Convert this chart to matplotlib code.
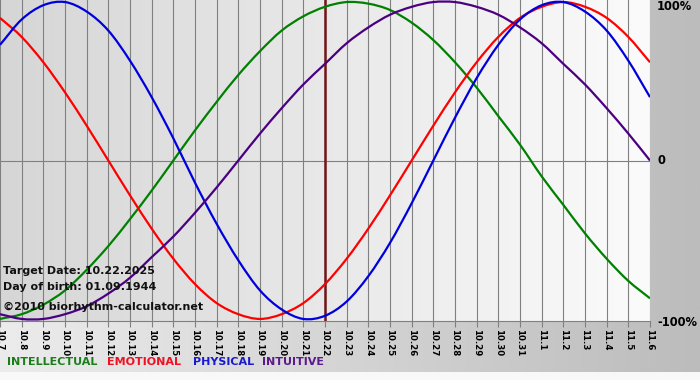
import matplotlib.pyplot as plt
import numpy as np
from matplotlib.colors import LinearSegmentedColormap
from matplotlib.path import Path
from matplotlib.patches import PathPatch

days = ["10.7", "10.8", "10.9", "10.10", "10.11", "10.12", "10.13", "10.14",
        "10.15", "10.16", "10.17", "10.18", "10.19", "10.20", "10.21", "10.22",
        "10.23", "10.24", "10.25", "10.26", "10.27", "10.28", "10.29", "10.30",
        "10.31", "11.1", "11.2", "11.3", "11.4", "11.5", "11.6"]
target = "10.22"

intellectual = [-1.00, -0.97, -0.91, -0.82, -0.69, -0.54, -0.37, -0.19, 0.00, 0.19,
                0.37, 0.54, 0.69, 0.82, 0.91, 0.97, 1.00, 0.99, 0.95, 0.87, 0.76,
                0.62, 0.46, 0.28, 0.10, -0.10, -0.28, -0.46, -0.62, -0.76, -0.87]
emotional = [0.90, 0.78, 0.62, 0.43, 0.22, 0.00, -0.22, -0.43, -0.62, -0.78,
             -0.90, -0.97, -1.00, -0.97, -0.90, -0.78, -0.62, -0.43, -0.22, 0.00,
             0.22, 0.43, 0.62, 0.78, 0.90, 0.97, 1.00, 0.97, 0.90, 0.78, 0.62]
physical = [0.73, 0.89, 0.98, 1.00, 0.94, 0.82, 0.63, 0.40, 0.14, -0.14,
            -0.40, -0.63, -0.82, -0.94, -1.00, -0.98, -0.89, -0.73, -0.52, -0.27,
            0.00, 0.27, 0.52, 0.73, 0.89, 0.98, 1.00, 0.94, 0.82, 0.63, 0.40]
intuitive = [-0.97, -1.00, -1.00, -0.97, -0.92, -0.84, -0.74, -0.61, -0.48, -0.33,
             -0.17, 0.00, 0.17, 0.33, 0.48, 0.61, 0.74, 0.84, 0.92, 0.97,
             1.00, 1.00, 0.97, 0.92, 0.84, 0.74, 0.61, 0.48, 0.33, 0.17, 0.00]

series = [
    ("INTELLECTUAL", intellectual, "#008000", "#1a7f1a"),
    ("EMOTIONAL", emotional, "#ff0000", "#ee1122"),
    ("PHYSICAL", physical, "#0000dd", "#1a1acc"),
    ("INTUITIVE", intuitive, "#4b0082", "#5a1a8a"),
]


def smooth_path(xs, ys):
    # catmull-rom through the day values, drawn as cubic beziers
    pts = np.column_stack([xs, ys]).astype(float)
    ext = np.vstack([2 * pts[0] - pts[1], pts, 2 * pts[-1] - pts[-2]])
    verts = [pts[0]]
    codes = [Path.MOVETO]
    for i in range(1, len(ext) - 2):
        p0, p1, p2, p3 = ext[i - 1], ext[i], ext[i + 1], ext[i + 2]
        verts += [p1 + (p2 - p0) / 6, p2 - (p3 - p1) / 6, p2]
        codes += [Path.CURVE4] * 3
    return Path(verts, codes)


W, H = 700, 380
fig = plt.figure(figsize=(W / 100, H / 100), dpi=100, facecolor="#f8f8f8")

# outer gradient (light left -> dark right)
grad = np.linspace(0, 1, 256).reshape(1, -1)
bg = fig.add_axes([0, 0, 1, 1])
bg.axis("off")
bg.imshow(grad, aspect="auto", extent=[0, 1, 8 / H, 1],
          cmap=LinearSegmentedColormap.from_list("outer", ["#ececec", "#bcbcbc"]))
bg.set_xlim(0, 1)
bg.set_ylim(0, 1)

ax = fig.add_axes([0, 59 / H, 650 / W, 321 / H])
x = np.arange(len(days))
ax.imshow(grad, aspect="auto", extent=[0, x[-1], -1.1, 1.1], zorder=0,
          cmap=LinearSegmentedColormap.from_list("inner", ["#d6d6d6", "#fbfbfb"]))
ax.set_xlim(0, x[-1])
ax.set_ylim(-1.013, 1.013)

ax.set_xticks(x)
ax.set_xticklabels(days, rotation=270, fontsize=6.2, fontweight="bold")
ax.set_yticks([])
ax.grid(axis="x", color="#808080", lw=0.8)
ax.tick_params(axis="x", direction="out", length=4, color="#808080", pad=2)
for s in ["top", "left", "right"]:
    ax.spines[s].set_visible(False)
ax.spines["bottom"].set_color("#808080")
ax.spines["bottom"].set_linewidth(0.8)

ax.axhline(0, color="#808080", lw=0.8, zorder=1.5)
ax.axvline(days.index(target), color="#701515", lw=1.8, zorder=1.6)

for name, vals, col, _ in series:
    ax.add_patch(PathPatch(smooth_path(x, vals), fill=False, edgecolor=col,
                           lw=1.6, zorder=3))

# right side labels
for lab, py in [("100%", 7), ("0", 161), ("-100%", 322)]:
    fig.text(657 / W, 1 - py / H, lab, fontsize=8.3, fontweight="bold",
             va="center", ha="left")

# info text
info = ["Target Date: 10.22.2025", "Day of birth: 01.09.1944",
        "©2010 biorhythm-calculator.net"]
for txt, py in zip(info, [271, 287, 307]):
    fig.text(3 / W, 1 - py / H, txt, fontsize=8, fontweight="bold", va="center",
             color="#111111")

# legend words
for (name, _, _, tcol), px in zip(series, [7, 107, 193, 262]):
    fig.text(px / W, 1 - 362 / H, name, fontsize=8, fontweight="bold",
             color=tcol, va="center")

fig.savefig("out.png", dpi=100, facecolor=fig.get_facecolor())
